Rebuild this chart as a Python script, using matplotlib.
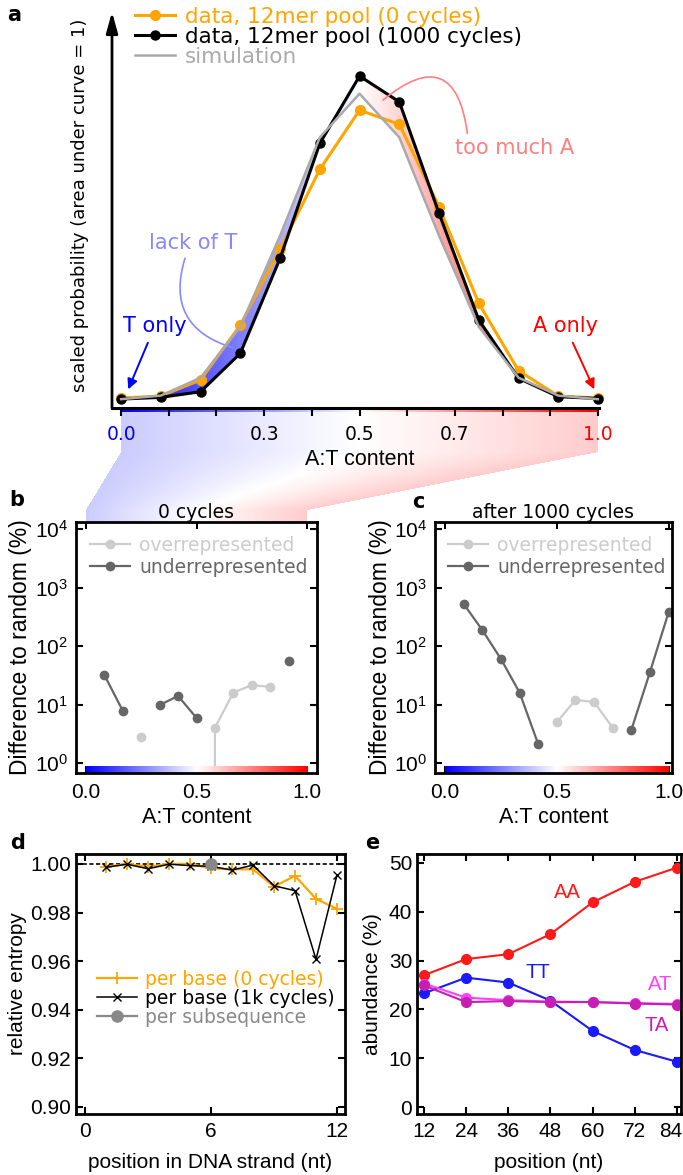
import numpy as np
import matplotlib
matplotlib.use('Agg')
import matplotlib.pyplot as plt
from matplotlib.transforms import ScaledTranslation

plt.rcParams['font.family'] = 'Liberation Sans'
plt.rcParams['mathtext.fontset'] = 'custom'
plt.rcParams['mathtext.rm'] = 'Liberation Sans'

W, H = 683, 1175
DV = 'DejaVu Sans'
nan = np.nan

# ---- panel a: A:T content distribution (area under curve = 1)
at_content = np.arange(13) / 12
pool_0 = [0.013, 0.031, 0.173, 0.659, 1.33, 2.037, 2.562, 2.435, 1.706, 0.851, 0.255, 0.031, 0.013]
pool_1000 = [0.004, 0.019, 0.069, 0.409, 1.249, 2.267, 2.863, 2.635, 1.648, 0.704, 0.188, 0.025, 0.009]
simulation = [0.003, 0.035, 0.193, 0.644, 1.45, 2.32, 2.707, 2.32, 1.45, 0.644, 0.193, 0.035, 0.003]
a_ticks = np.round(np.arange(0, 1.01, 0.1), 1)
a_ticklabels = ['0.0', '', '', '0.3', '', '0.5', '', '0.7', '', '', '1.0']

# ---- panels b, c: difference to random (%)
b_over = [nan, nan, nan, 2.8, nan, nan, 0, 4.0, 16, 21.5, 20, nan, nan]
b_under = [nan, 32, 7.8, nan, 9.8, 14, 5.9, nan, nan, nan, nan, 55, nan]
c_over = [nan, nan, nan, nan, nan, nan, 5.0, 12, 11, 4.0, nan, nan, nan]
c_under = [nan, 524, 187, 60, 16, 2.1, nan, nan, nan, nan, 3.7, 36, 380]

# ---- panel d: relative entropy
pos_d = np.arange(1, 13)
entropy_0 = [0.9989, 0.9999, 0.9989, 1.0, 1.0, 0.9982, 0.9978, 0.9978, 0.9907, 0.9951, 0.9856, 0.9815]
entropy_1k = [0.9986, 0.9999, 0.998, 0.9999, 0.9993, 0.999, 0.9975, 0.9995, 0.991, 0.989, 0.9607, 0.9955]
subseq_pos = [6]
subseq_entropy = [1.0]

# ---- panel e: dinucleotide abundance
pos_e = [12, 24, 36, 48, 60, 72, 84]
AA = [27.0, 30.3, 31.3, 35.4, 41.9, 46.1, 49.0]
TT = [23.3, 26.5, 25.5, 21.8, 15.6, 11.7, 9.3]
AT = [25.3, 22.4, 21.9, 21.6, 21.5, 21.3, 21.1]
TA = [24.9, 21.5, 21.7, 21.5, 21.5, 21.2, 21.0]


fig = plt.figure(figsize=(W / 100, H / 100), dpi=100)


def px_axes(left, top, right, bottom, **kw):
    return fig.add_axes([left / W, 1 - bottom / H, (right - left) / W, (bottom - top) / H], **kw)


def strip(ax, x0, x1, y0, h, z):
    # coloured A:T bar, in axes fraction
    xmin, xmax = ax.get_xlim()
    s = ax.inset_axes([(x0 - xmin) / (xmax - xmin), y0, (x1 - x0) / (xmax - xmin), h], zorder=z)
    s.imshow(np.linspace(0, 1, 256).reshape(1, -1), cmap='bwr', aspect='auto')
    s.axis('off')
    return s


grad = np.linspace(0, 1, 256).reshape(1, -1)

# ================= panel a
axa = px_axes(112, 12, 599, 408)
xa_lim = (-0.019, 1.002)
ya_lim = (-0.075, 3.43)
im = axa.imshow(grad, cmap='bwr', extent=(0, 1, ya_lim[0], ya_lim[1]), aspect='auto', zorder=1)
fb = axa.fill_between(at_content, simulation, pool_1000, facecolor='none', edgecolor='none')
im.set_clip_path(fb.get_paths()[0], transform=axa.transData)

axa.plot(at_content, pool_0, '-o', color='orange', lw=2.2, ms=7, zorder=2, clip_on=False,
         label='data, 12mer pool (0 cycles)')
axa.plot(at_content, pool_1000, '-o', color='k', lw=2.2, ms=6.5, zorder=3, clip_on=False,
         label='data, 12mer pool (1000 cycles)')
axa.plot(at_content, simulation, '-', color='#aaaaaa', lw=1.8, zorder=4, label='simulation')
axa.set_xlim(*xa_lim)
axa.set_ylim(*ya_lim)
for s in ['top', 'right', 'left']:
    axa.spines[s].set_visible(False)
axa.spines['bottom'].set_linewidth(2.2)
axa.set_yticks([])
axa.set_xticks(a_ticks)
axa.set_xticklabels(a_ticklabels)
axa.tick_params(axis='x', direction='out', length=6, width=1.5, pad=6, labelsize=13.5,
                labelfontfamily=DV)
tl = axa.get_xticklabels()
tl[0].set_color('blue')
tl[-1].set_color('red')
axa.annotate('', xy=(0, 1), xytext=(0, 0), xycoords='axes fraction',
             arrowprops=dict(arrowstyle='-|>,head_width=0.25,head_length=0.9', color='k', lw=2,
                             shrinkA=0, shrinkB=0, mutation_scale=14))
strip(axa, 0, 1, -4 / 396, 4 / 396, 1)

axa.set_ylabel('scaled probability (area under curve = 1)', family=DV, fontsize=13, va='center')
axa.yaxis.set_label_coords(-0.066, 0.513)
axa.set_xlabel('A:T content', fontsize=15.5, va='center')
axa.xaxis.set_label_coords(0.509, -0.131)

axa.legend(loc='upper left', bbox_to_anchor=(0.047, 1.013), frameon=False, borderpad=0,
           borderaxespad=0, labelspacing=0, handlelength=1.86, handletextpad=0.47,
           prop={'family': DV, 'size': 15.5}, labelcolor='linecolor')

axa.annotate('T only', xy=(0.015, 0.09), xytext=(0.071, 0.65), ha='center', va='center',
             color='blue', fontsize=15, family=DV,
             arrowprops=dict(arrowstyle='-|>', color='blue', lw=1.4, shrinkA=3, shrinkB=0))
axa.annotate('A only', xy=(0.992, 0.09), xytext=(0.931, 0.65), ha='center', va='center',
             color='red', fontsize=15, family=DV,
             arrowprops=dict(arrowstyle='-|>', color='red', lw=1.4, shrinkA=3, shrinkB=0))
axa.text(0.151, 1.385, 'lack of T', ha='center', va='center', color='#8888ff', fontsize=15, family=DV)
axa.annotate('', xy=(0.233, 0.46), xytext=(0.134, 1.25),
             arrowprops=dict(arrowstyle='-', connectionstyle='arc3,rad=0.5', color='#8888ff', lw=1.2,
                             shrinkA=0, shrinkB=0))
axa.text(0.826, 2.226, 'too much A', ha='center', va='center', color='#ff8080', fontsize=15, family=DV)
axa.annotate('', xy=(0.549, 2.65), xytext=(0.726, 2.356),
             arrowprops=dict(arrowstyle='-', connectionstyle='arc3,rad=0.9', color='#ff8080', lw=1.2,
                             shrinkA=0, shrinkB=0))


def frame(ax, xpad, ypad):
    ax.tick_params(direction='in', top=True, right=True, length=5, width=1.5, labelsize=15)
    ax.tick_params(axis='x', pad=xpad)
    ax.tick_params(axis='y', pad=ypad)
    for s in ax.spines.values():
        s.set_linewidth(2)


# ================= panels b, c
def ratio_panel(box, xlim, title, over, under, leg_x):
    ax = px_axes(*box)
    ax.set_yscale('log')
    ax.plot(at_content, over, '-o', color='#cccccc', lw=1.6, ms=6, label='overrepresented')
    ax.plot(at_content, under, '-o', color='#666666', lw=1.6, ms=6, label='underrepresented')
    ax.set_xlim(*xlim)
    ax.set_ylim(0.675, 13180)
    ax.yaxis.set_minor_locator(matplotlib.ticker.NullLocator())
    ax.set_yticks([1, 10, 100, 1000, 10000])
    ax.set_xticks([0, 0.5, 1.0])
    ax.set_xticklabels(['0.0', '0.5', '1.0'])
    frame(ax, 7.5, 6)
    ax.set_title(title, family=DV, fontsize=13.5, pad=3)
    ax.set_ylabel('Difference to random (%)', fontsize=16.5, va='center')
    ax.yaxis.set_label_coords(-0.232, 0.5)
    ax.set_xlabel('A:T content', fontsize=15.5, va='center')
    ax.xaxis.set_label_coords(0.5, -0.179)
    ax.legend(loc='upper left', bbox_to_anchor=(leg_x, 0.944), frameon=False, borderpad=0,
              borderaxespad=0, labelspacing=0.16, handlelength=2.13, handletextpad=0.5,
              prop={'family': DV, 'size': 13.5}, labelcolor='linecolor')
    strip(ax, 0, 1, 0.0, 0.028, 2.4)
    return ax


axb = ratio_panel((76, 522, 317, 773), (-0.045, 1.045), '0 cycles', b_over, b_under, 0.058)
axc = ratio_panel((435, 522, 672, 773), (-0.045, 1.015), 'after 1000 cycles', c_over, c_under, 0.055)

# ================= panel d
axd = px_axes(76, 854, 345, 1114)
axd.axhline(1.0, color='k', lw=1.2, ls=(0, (2.5, 1.5)), zorder=1)
axd.plot(pos_d, entropy_0, '-+', color='orange', lw=1.6, ms=9, mew=1.3, label='per base (0 cycles)')
axd.plot(pos_d, entropy_1k, '-x', color='k', lw=1.1, ms=6, mew=1, label='per base (1k cycles)')
axd.plot(subseq_pos, subseq_entropy, '-o', color='#888888', ms=8, lw=1.6, label='per subsequence')
axd.set_xlim(-0.43, 12.38)
axd.set_ylim(0.897, 1.0041)
axd.set_xticks([0, 6, 12])
axd.set_yticks(np.arange(0.90, 1.001, 0.02))
axd.yaxis.set_major_formatter(matplotlib.ticker.FormatStrFormatter('%.2f'))
frame(axd, 6, 3.5)
axd.set_ylabel('relative entropy', fontsize=15, va='center')
axd.yaxis.set_label_coords(-0.216, 0.5)
axd.set_xlabel('position in DNA strand (nt)', fontsize=15, va='center')
axd.xaxis.set_label_coords(0.5, -0.188)
axd.legend(loc='upper left', bbox_to_anchor=(0.078, 0.554), frameon=False, borderpad=0,
           borderaxespad=0, labelspacing=0, handlelength=2.13, handletextpad=0.43,
           prop={'family': DV, 'size': 13.5}, labelcolor='linecolor')

# ================= panel e
axe = px_axes(417, 854, 681, 1114)
axe.plot(pos_e, AA, '-o', color='#ff1a1a', lw=1.5, ms=7)
axe.plot(pos_e, TT, '-o', color='#1a1aff', lw=1.5, ms=7)
axe.plot(pos_e, AT, '-o', color='#ff40ff', lw=1.5, ms=7)
axe.plot(pos_e, TA, '-o', color='#c81eb4', lw=1.5, ms=7)
axe.text(52.7, 43.9, 'AA', color='#ff1a1a', fontsize=14.5, ha='center', va='center')
axe.text(44.5, 27.5, 'TT', color='#1a1aff', fontsize=14.5, ha='center', va='center')
axe.text(79.2, 25.0, 'AT', color='#ff40ff', fontsize=14.5, ha='center', va='center')
axe.text(78.3, 16.8, 'TA', color='#c81eb4', fontsize=14.5, ha='center', va='center')
axe.set_xlim(10, 85.2)
axe.set_ylim(-1.4, 51.8)
axe.set_xticks(pos_e)
axe.set_yticks([0, 10, 20, 30, 40, 50])
frame(axe, 6, 3.5)
axe.set_ylabel('abundance (%)', fontsize=15, va='center')
axe.yaxis.set_label_coords(-0.167, 0.5)
axe.set_xlabel('position (nt)', fontsize=15, va='center')
axe.xaxis.set_label_coords(0.5, -0.188)
# last tick label sits at the figure edge, nudge it inside
last = axe.get_xticklabels()[-1]
last.set_transform(last.get_transform() + ScaledTranslation(-6 / 100, 0, fig.dpi_scale_trans))

# ================= panel letters
for letter, (px, py) in {'a': (14, 15), 'b': (17, 500), 'c': (418, 502),
                         'd': (18, 843), 'e': (372, 843)}.items():
    fig.text(px / W, 1 - py / H, letter, family=DV, fontweight='bold', fontsize=15,
             ha='center', va='center')

# ================= zoom band from panel a axis to panel b
bg = fig.add_axes([0, 0, 1, 1], zorder=-10)
bg.set_xlim(0, W)
bg.set_ylim(0, H)
bg.axis('off')
xa0, ya_sp = axa.transData.transform((0, ya_lim[0]))
xa1, _ = axa.transData.transform((1, ya_lim[0]))
(xb0, yb_top), (xb1, _) = axb.get_xaxis_transform().transform([(0, 1), (1, 1)])
y_top = ya_sp - 4
knee_a = ya_sp - 44
knee_b = yb_top + 12
ys = np.arange(int(yb_top), int(y_top)) + 0.5
xs = np.arange(int(min(xa0, xb0)) - 2, int(max(xa1, xb1)) + 2) + 0.5
f = np.clip((ys - knee_b) / (knee_a - knee_b), 0, 1)[:, None]
xl = xb0 + f * (xa0 - xb0)
xr = xb1 + f * (xa1 - xb1)
t = (xs[None, :] - xl) / (xr - xl)
rgba = plt.get_cmap('bwr')(np.clip(t, 0, 1))
rgba[..., 3] = np.where((t >= 0) & (t <= 1), 0.2, 0)
bg.imshow(rgba, extent=(xs[0] - 0.5, xs[-1] + 0.5, ys[0] - 0.5, ys[-1] + 0.5), origin='lower',
          aspect='auto', interpolation='nearest')

fig.savefig('out.png', dpi=100)
